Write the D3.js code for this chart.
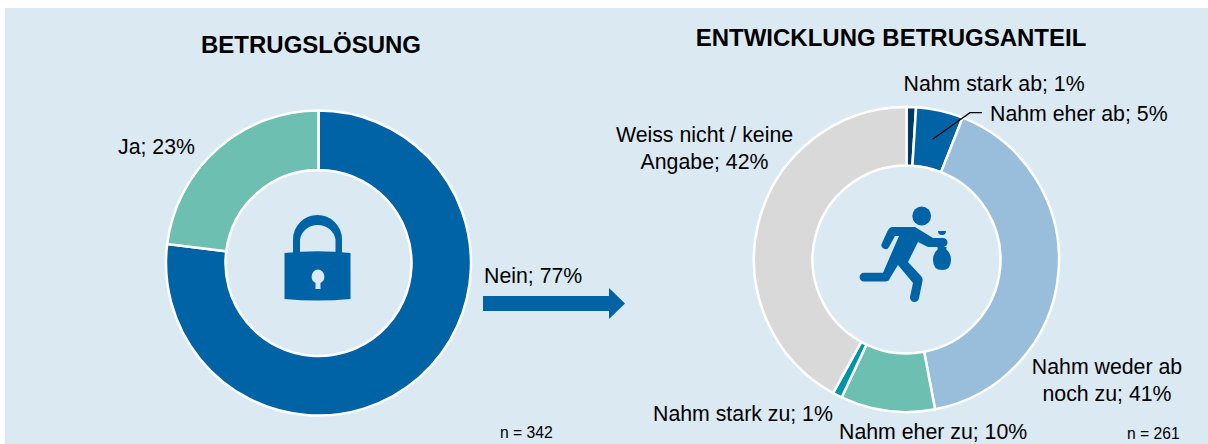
<!DOCTYPE html>
<html><head><meta charset="utf-8">
<script src="https://cdn.jsdelivr.net/npm/d3@7/dist/d3.min.js"></script>
<style>html,body{margin:0;padding:0;background:#fff}svg{display:block}text{font-family:"Liberation Sans",Arial,sans-serif;fill:#000}</style>
</head><body><svg id="c" width="1208" height="444"></svg>
<script>
const leftCats=["Nein","Ja"];
const leftVals=[77,23];
const leftColors=["#0063a6","#6dbfb1"];
const rightCats=["Nahm stark ab","Nahm eher ab","Nahm weder ab noch zu","Nahm eher zu","Nahm stark zu","Weiss nicht / keine Angabe"];
const rightVals=[1,5,41,10,1,42];
const rightColors=["#003a63","#0063a6","#98bedb","#6dbfb1","#0094a8","#d9d9d9"];
const svg=d3.select("#c");
svg.append("rect").attr("x",5).attr("y",8).attr("width",1203).attr("height",436).attr("fill","#dbe9f3");
function donut(vals,cols,cx,cy,ro,ri){
  const p=d3.pie().sort(null)(vals),a=d3.arc().outerRadius(ro).innerRadius(ri);
  svg.append("g").attr("transform",`translate(${cx},${cy})`).selectAll("path").data(p).join("path")
    .attr("d",a).attr("fill",(d,i)=>cols[i]).attr("stroke","#fff").attr("stroke-width",2.5);
}
donut(leftVals,leftColors,318.5,263,152.5,93);
donut(rightVals,rightColors,906.5,259.5,152.5,94);
function label(lines,x,y,anchor,size=21.3){
  lines.forEach((l,i)=>svg.append("text").attr("x",x).attr("y",y+i*27).attr("text-anchor",anchor||"start").attr("font-size",size).text(l));
}
const pct=(v)=>v+"%";
svg.append("text").attr("x",311).attr("y",53).attr("text-anchor","middle").attr("font-size",24).attr("font-weight","bold").text("BETRUGSLÖSUNG");
svg.append("text").attr("x",891).attr("y",46).attr("text-anchor","middle").attr("font-size",24).attr("font-weight","bold").text("ENTWICKLUNG BETRUGSANTEIL");
label([leftCats[1]+"; "+pct(leftVals[1])],118,154);
label([leftCats[0]+"; "+pct(leftVals[0])],484,283);
label([rightCats[0]+"; "+pct(rightVals[0])],903.5,91);
label([rightCats[1]+"; "+pct(rightVals[1])],990,121);
label(["Nahm weder ab","noch zu; "+pct(rightVals[2])],1107,374,"middle");
label([rightCats[3]+"; "+pct(rightVals[3])],839,439);
label([rightCats[4]+"; "+pct(rightVals[4])],653,421);
label(["Weiss nicht / keine","Angabe; "+pct(rightVals[5])],704.5,142,"middle");
label(["n = 342"],500,438,"start",15.7);
label(["n = 261"],1127,439,"start",15.7);
// leader line
svg.append("path").attr("d","M933,139 L970,112.7 L982,112.7").attr("fill","none").attr("stroke","#000").attr("stroke-width",1.2);
// arrow
svg.append("path").attr("d","M483,296 H609 V288 L625,303.5 L609,319 V311 H483 Z").attr("fill","#0063a6");
// lock
const lock=svg.append("g").attr("fill","#0063a6");
lock.append("path").attr("d","M293,254 V239.5 A24.5,24.5 0 0 1 342,239.5 V254 H335.5 V239.5 A18,17.5 0 0 0 300,239.5 V254 Z");
lock.append("path").attr("fill-rule","evenodd").attr("d","M284.5,253 Q318,249.5 350.5,253 V299 Q318,302 284.5,299 Z M318,269.5 A7.2,7.2 0 0 0 315.5,283 V289 H320.5 V283 A7.2,7.2 0 0 0 318,269.5 Z");
// runner
const run=svg.append("g").attr("fill","#0063a6");
run.append("circle").attr("cx",921.7).attr("cy",216).attr("r",9.4);
run.append("path").attr("d","M892,227 H915 L933,238 H943 A4.5,4.5 0 0 1 943,247 H928 L918,242 L908,262 L921,276 Q923,278 922.5,281 L919,298 A4.5,4.5 0 0 1 910,297 L913,283 L898,265 L890,278 Q889,281.5 885,281.5 H864 A4.4,4.4 0 0 1 864,272.7 H883 L899,236 H895 L889,247 A4,4 0 0 1 882,243 L888,230 Q890,227 892,227 Z");
run.append("path").attr("d","M938,231 H946 Q946,235 942,235 Q938,235 938,231 Z");
run.append("path").attr("d","M938,249 Q936,247 939,247 L945,247 Q948,247 946,249 Q951,253 951,260 Q951,270 942,270 Q933,270 933,260 Q933,253 938,249 Z");
</script></body></html>
